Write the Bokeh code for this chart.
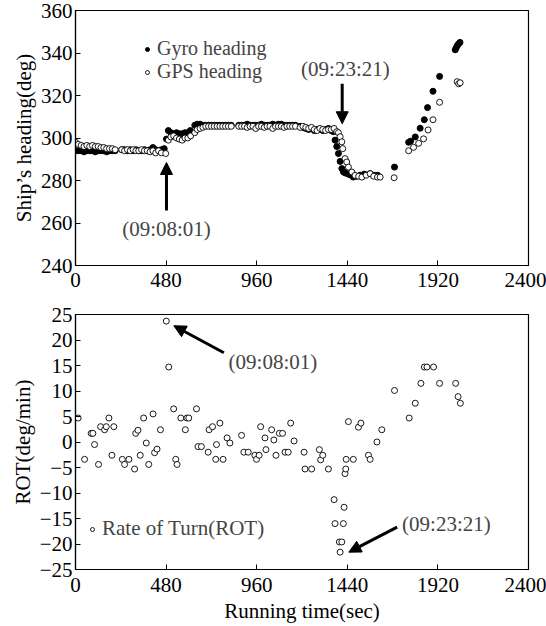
from bokeh.plotting import figure
from bokeh.layouts import column
from bokeh.models import Range1d, FixedTicker, Legend, LegendItem, Arrow, NormalHead, Label
from bokeh.embed import file_html
from bokeh.resources import INLINE

# ---------------- data ----------------
x_ticks = [0, 480, 960, 1440, 1920, 2400]
heading_ticks = [240, 260, 280, 300, 320, 340, 360]
rot_ticks = [-25, -20, -15, -10, -5, 0, 5, 10, 15, 20, 25]

gyro_t = [0, 15, 30, 45, 60, 75, 90, 105, 120, 135, 150, 165, 180, 195, 210,
          245, 260, 275, 290, 305, 320, 335, 350, 365, 380, 395, 410, 425, 440, 455, 470,
          482, 492, 505, 520, 535, 550, 565, 580, 595, 608,
          632, 645, 660, 675, 690, 705, 720, 735, 750, 765, 780, 795, 810, 825,
          865, 880, 895, 910, 925, 940, 955, 970, 985, 1000, 1015, 1030, 1045, 1060, 1075,
          1090, 1105, 1120, 1135, 1150, 1165,
          1190, 1205, 1220, 1235, 1250, 1265, 1280, 1295, 1310, 1325, 1340, 1355, 1366, 1375,
          1384, 1393, 1402, 1411, 1420, 1430, 1446, 1460, 1472, 1490, 1508, 1530, 1561, 1580, 1600,
          1690,
          1765, 1775, 1800, 1826, 1848, 1865, 1894, 1929,
          2012, 2017, 2023, 2030, 2037]
gyro_v = [294, 294, 294, 293.5, 294, 294, 294, 293.5, 294, 294, 294, 293.5, 294, 294, 294,
          294.5, 294.5, 294, 294.5, 294, 294.5, 294, 294, 294.5, 294, 294.5, 295.5, 294.5, 294, 294.5, 295,
          299.5, 303.5, 302.5, 302, 302.5, 302, 302, 302.5, 302.5, 303.5,
          306, 306.5, 306.5, 306, 306, 306, 306, 306, 306, 306, 306, 306, 306, 306,
          306, 306, 306, 306.5, 306, 306, 306, 306, 306.5, 306, 306, 306, 306.5, 306, 306.5,
          306.5, 306, 306, 306, 306, 306,
          305.5, 305, 304.5, 304, 304.5, 303.5, 304, 304, 303.5, 304, 304.5, 303.5, 303, 299,
          296, 292.7, 289, 285.6, 284, 283.5, 283, 282.5, 281.6, 282, 282.5, 283, 283.2, 282.5, 282.5,
          286.3,
          298, 298.5, 300.5, 304.6, 308.6, 314.3, 322, 329,
          341.5, 342.5, 343.5, 344.3, 345]

gps_t = [0, 15, 30, 45, 60, 75, 90, 105, 120, 135, 150, 165, 180, 195, 210,
         245, 260, 275, 290, 305, 320, 335, 350, 365, 380, 395, 410, 425, 440, 455, 478,
         492, 505, 520, 535, 550, 565, 580, 595, 610,
         632, 645, 660, 675, 690, 705, 720, 735, 750, 765, 780, 795, 810, 825,
         865, 880, 895, 910, 925, 940, 955, 970, 985, 1000, 1015, 1030, 1045, 1060, 1075,
         1090, 1105, 1120, 1135, 1150, 1165,
         1190, 1205, 1220, 1235, 1250, 1265, 1280, 1295, 1310, 1325, 1340, 1355, 1370, 1384,
         1393, 1402, 1411, 1416, 1428, 1437, 1446, 1464, 1481, 1500, 1517, 1540, 1561, 1580, 1600, 1614,
         1688,
         1765, 1791, 1818, 1844, 1868, 1894, 1929,
         2022, 2030, 2038]
gps_v = [298, 297, 296.5, 296, 296.5, 296, 296.5, 296, 296, 295.5, 295.5, 295, 295, 295, 294.5,
         294.5, 294, 294.5, 294, 294.5, 294, 294, 294.5, 294, 294, 293.5, 294, 293, 294, 293, 292.7,
         299, 300.5, 301, 300, 299.5, 299, 300, 300, 301,
         302.5, 304, 304.5, 305, 305.5, 305.5, 305.5, 305.5, 305.5, 305.5, 305.5, 305.5, 305.5, 305.5,
         305.5, 305.5, 305.5, 305, 305.5, 305.5, 304.5, 305.5, 305.5, 305, 305.5, 305.5, 304.5, 305.5, 305.5,
         305.5, 305, 305.5, 305.5, 305.5, 305.5,
         305, 305.5, 305, 304.5, 305, 304, 303.5, 304.5, 304, 303.5, 304, 304, 304.5, 303,
         302.5, 300.6, 298.2, 295, 290.3, 288.7, 286.3, 284, 282.4, 282, 281.6, 282.5, 283.2, 282, 281.6, 281.6,
         281.3,
         294, 295.6, 297.5, 299.6, 303.8, 308.6, 316.8,
         326.5, 325.5, 326]

rot_t = [14, 48, 83, 92, 101, 122, 133, 154, 163, 177, 193, 203, 248, 260, 283, 313, 319, 331,
         343, 361, 375, 388, 411, 419, 432, 450, 481, 494, 520, 531, 538, 558, 582, 590, 600,
         641, 649, 667, 703, 708, 726, 743, 747, 765, 782, 803, 818, 880, 892, 915, 950, 959,
         973, 981, 1004, 1009, 1039, 1051, 1062, 1080, 1097, 1110, 1127, 1140, 1158, 1211, 1216,
         1251, 1292, 1299, 1310, 1340, 1370, 1375, 1398, 1402, 1411, 1419, 1423, 1428, 1432,
         1434, 1446, 1472, 1499, 1512, 1552, 1561, 1597, 1623, 1690, 1768, 1800, 1830, 1848,
         1862, 1897, 1929, 2014, 2027, 2039]
rot_v = [4.7, -3.4, 1.7, 1.7, -0.5, -4.4, 3.0, 2.4, 3.0, 4.7, -2.6, 3.0, -3.4, -4.4, -3.4, -5.3, 1.7, 2.3,
         -2.6, 4.7, -0.2, -4.4, 5.5, -2.1, -1.4, 2.4, 23.7, 14.7, 6.5, -3.4, -4.4, 4.7, 2.4, 4.7, 4.7,
         6.5, -0.9, -0.9, -2.0, 2.4, 3.0, -3.4, -0.5, 3.7, -3.4, 0.8, -0.2, 1.3, -2.0, -2.0, -2.6, -3.4,
         -2.6, 3.0, 0.8, -1.5, 2.4, 0.4, -2.6, 1.7, 1.7, -2.0, -2.0, 3.7, 0.2, -2.0, -5.3,
         -5.3, -1.5, -3.5, -2.6, -5.3, -11.3, -16.0, -19.6, -21.6, -19.6, -16.0, -12.8, -6.2, -5.3,
         -3.4, 4.0, -3.4, 2.9, 3.7, -2.6, -3.4, 0.0, 2.4, 10.1, 4.7, 7.6, 11.5, 14.7,
         14.7, 14.7, 11.5, 11.5, 8.9, 7.6]

FONT = "Liberation Serif"
FS = "21px"


def style(p, yticks):
    p.xgrid.visible = False
    p.ygrid.visible = False
    p.outline_line_color = "black"
    p.outline_line_width = 1.2
    p.background_fill_color = "white"
    p.border_fill_color = "white"
    for ax in (p.xaxis[0], p.yaxis[0]):
        ax.axis_line_color = "black"
        ax.axis_line_width = 1.2
        ax.major_tick_in = 5
        ax.major_tick_out = 0
        ax.minor_tick_line_color = None
        ax.major_tick_line_color = "black"
        ax.major_label_text_font = FONT
        ax.major_label_text_font_size = FS
        ax.major_label_text_color = "black"
        ax.axis_label_text_font = FONT
        ax.axis_label_text_font_size = FS
        ax.axis_label_text_font_style = "normal"
        ax.axis_label_text_color = "black"
        ax.major_label_standoff = 3
        ax.axis_label_standoff = 2
    p.xaxis[0].major_label_standoff = 7
    p.xaxis[0].ticker = FixedTicker(ticks=x_ticks)
    p.yaxis[0].ticker = FixedTicker(ticks=yticks)


def make_legend(items, loc, size):
    return Legend(items=items, location=loc, glyph_width=10, glyph_height=20, label_height=20,
                  label_standoff=5, spacing=0, padding=0, margin=0,
                  label_text_font=FONT, label_text_font_size=size,
                  border_line_color=None, background_fill_alpha=0)


# ---------------- top ----------------
top = figure(width=546, height=300, output_backend="svg", toolbar_location=None,
             x_range=Range1d(0, 2400), y_range=Range1d(240, 360),
             min_border_left=75, min_border_right=18, min_border_top=10, min_border_bottom=35)
style(top, heading_ticks)
top.yaxis[0].axis_label = "Ship’s heading(deg)"

r_gyro = top.scatter(gyro_t, gyro_v, marker="circle", size=6, fill_color="black", line_color="black")
r_gps = top.scatter(gps_t, gps_v, marker="circle", size=6, fill_color="white", line_color="black",
                    line_width=0.9)

top.add_layout(make_legend([LegendItem(label="Gyro heading", renderers=[r_gyro]),
                            LegendItem(label="GPS heading", renderers=[r_gps])],
                           (67, 182), "20px"))

top.add_layout(Arrow(end=NormalHead(size=12, fill_color="black", line_color="black"),
                     x_start=482, y_start=265.9, x_end=482, y_end=288.5, line_width=3))
top.add_layout(Label(x=482, y=257.4, text="(09:08:01)", text_font=FONT, text_font_size=FS,
                     text_align="center", text_baseline="middle"))
top.add_layout(Arrow(end=NormalHead(size=12, fill_color="black", line_color="black"),
                     x_start=1413, y_start=325.5, x_end=1413, y_end=306.7, line_width=3))
top.add_layout(Label(x=1430, y=332.6, text="(09:23:21)", text_font=FONT, text_font_size=FS,
                     text_align="center", text_baseline="middle"))

# ---------------- bottom ----------------
bot = figure(width=546, height=326, output_backend="svg", toolbar_location=None,
             x_range=Range1d(0, 2400), y_range=Range1d(-25, 25),
             min_border_left=75, min_border_right=18, min_border_top=14, min_border_bottom=57)
style(bot, rot_ticks)
bot.yaxis[0].axis_label = "ROT(deg/min)"
bot.xaxis[0].axis_label = "Running time(sec)"
bot.xaxis[0].major_label_standoff = 8
bot.xaxis[0].axis_label_standoff = 4

r_rot = bot.scatter(rot_t, rot_v, marker="circle", size=6, fill_color="white", line_color="black",
                    line_width=0.9)
bot.add_layout(make_legend([LegendItem(label="Rate of Turn(ROT)", renderers=[r_rot])],
                           (12, 28), FS))

bot.add_layout(Arrow(end=NormalHead(size=12, fill_color="black", line_color="black"),
                     x_start=786, y_start=17.5, x_end=521, y_end=22.8, line_width=3))
bot.add_layout(Label(x=1046, y=15.6, text="(09:08:01)", text_font=FONT, text_font_size=FS,
                     text_align="center", text_baseline="middle"))
bot.add_layout(Arrow(end=NormalHead(size=12, fill_color="black", line_color="black"),
                     x_start=1704, y_start=-16.7, x_end=1448, y_end=-21.6, line_width=3))
bot.add_layout(Label(x=1965, y=-16.0, text="(09:23:21)", text_font=FONT, text_font_size=FS,
                     text_align="center", text_baseline="middle"))

layout = column(top, bot, spacing=0)
open("out.html", "w").write(file_html(layout, INLINE))
